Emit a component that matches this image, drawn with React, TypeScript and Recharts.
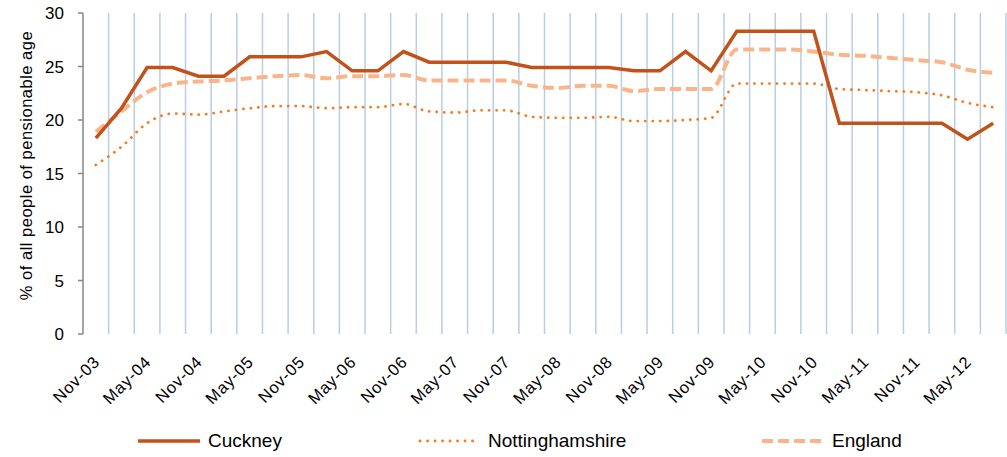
import { LineChart, Line, XAxis, YAxis, CartesianGrid, Legend, Label } from 'recharts';

// ─── Data (quarterly, % of all people of pensionable age) ─────────────────────

const quarters = [
  'Nov-03', 'Feb-04', 'May-04', 'Aug-04', 'Nov-04', 'Feb-05', 'May-05', 'Aug-05',
  'Nov-05', 'Feb-06', 'May-06', 'Aug-06', 'Nov-06', 'Feb-07', 'May-07', 'Aug-07',
  'Nov-07', 'Feb-08', 'May-08', 'Aug-08', 'Nov-08', 'Feb-09', 'May-09', 'Aug-09',
  'Nov-09', 'Feb-10', 'May-10', 'Aug-10', 'Nov-10', 'Feb-11', 'May-11', 'Aug-11',
  'Nov-11', 'Feb-12', 'May-12', 'Aug-12',
];

const cuckney = [
  18.3, 21.1, 24.9, 24.9, 24.1, 24.1, 25.9, 25.9, 25.9, 26.4, 24.6, 24.6,
  26.4, 25.4, 25.4, 25.4, 25.4, 24.9, 24.9, 24.9, 24.9, 24.6, 24.6, 26.4,
  24.6, 28.3, 28.3, 28.3, 28.3, 19.7, 19.7, 19.7, 19.7, 19.7, 18.2, 19.7,
];

const nottinghamshire = [
  15.8, 17.5, 19.7, 20.6, 20.5, 20.8, 21.1, 21.3, 21.3, 21.1, 21.2, 21.2,
  21.5, 20.8, 20.7, 20.9, 20.9, 20.3, 20.2, 20.2, 20.3, 19.9, 19.9, 20.0,
  20.2, 23.4, 23.4, 23.4, 23.4, 22.9, 22.8, 22.7, 22.6, 22.3, 21.6, 21.2,
];

const england = [
  18.9, 20.8, 22.6, 23.4, 23.6, 23.7, 23.9, 24.1, 24.2, 23.9, 24.1, 24.1,
  24.2, 23.7, 23.7, 23.7, 23.7, 23.2, 23.0, 23.2, 23.2, 22.7, 22.9, 22.9,
  22.9, 26.6, 26.6, 26.6, 26.4, 26.1, 26.0, 25.8, 25.6, 25.4, 24.7, 24.4,
];

const yTicks = [0, 5, 10, 15, 20, 25, 30];

// ─── Styles ───────────────────────────────────────────────────────────────────

const FONT = '"Liberation Sans", Arial, sans-serif';
const CUCKNEY = '#C0521A';
const NOTTS = '#F47C20';
const ENGLAND = '#F9B589';
const AXIS = '#868686';
const GRID = '#B9CDE5';

const data = quarters.map((q, i) => ({
  i,
  q,
  cuckney: cuckney[i],
  nottinghamshire: nottinghamshire[i],
  england: england[i],
}));

// tick marks + gridlines sit between categories, labels on every other category
const X_DOMAIN: [number, number] = [-0.5, quarters.length - 0.5];
const boundaries = [-0.5, ...quarters.map((_, i) => i + 0.5)];
const labelTicks = quarters.map((_, i) => i).filter(i => i % 2 === 0);

function QuarterTick(props: any) {
  const { x, y, payload } = props;
  return (
    <text
      x={0}
      y={0}
      transform={`translate(${x + 5},${y + 27}) rotate(-45)`}
      textAnchor="end"
      fontSize={16.5}
      fill="#000"
      fontFamily={FONT}
      letterSpacing={0.8}
    >
      {quarters[payload.value]}
    </text>
  );
}

function YTitle(props: any) {
  const vb = props.viewBox ?? { x: 0, y: 0, height: 0 };
  return (
    <text
      transform={`translate(${vb.x + 26},${vb.y + vb.height / 2 - 8}) rotate(-90)`}
      textAnchor="middle"
      dominantBaseline="central"
      fontSize={16.5}
      fill="#000"
      fontFamily={FONT}
      letterSpacing={0.5}
    >
      % of all people of pensionable age
    </text>
  );
}

const legendItems = [
  { name: 'Cuckney', color: CUCKNEY, width: 3.5, dash: undefined, cap: 'butt', left: 138 },
  { name: 'Nottinghamshire', color: NOTTS, width: 2.8, dash: '0.1 7.4', cap: 'round', left: 418 },
  { name: 'England', color: ENGLAND, width: 4, dash: '11 5', cap: 'butt', left: 762 },
];

function ChartLegend() {
  return (
    <div style={{ position: 'relative', width: 1007, height: 26, fontFamily: FONT }}>
      {legendItems.map(it => (
        <div
          key={it.name}
          style={{ position: 'absolute', left: it.left, top: 0, display: 'flex', alignItems: 'center', height: 26 }}
        >
          <svg width={64} height={26} style={{ display: 'block' }}>
            <line
              x1={it.cap === 'round' ? 2 : 0}
              y1={12}
              x2={62}
              y2={12}
              stroke={it.color}
              strokeWidth={it.width}
              strokeDasharray={it.dash}
              strokeLinecap={it.cap as any}
            />
          </svg>
          <span style={{ marginLeft: 6, fontSize: 19, color: '#000', lineHeight: '26px', position: 'relative', top: -1 }}>
            {it.name}
          </span>
        </div>
      ))}
    </div>
  );
}

// vertical gridlines at the category boundaries (same linear mapping as the x axis)
const gridX = ({ offset }: any) => {
  const [d0, d1] = X_DOMAIN;
  return boundaries.slice(1).map(b => offset.left + ((b - d0) / (d1 - d0)) * offset.width);
};

// ─── Component ────────────────────────────────────────────────────────────────

export default function App() {
  return (
    <div style={{ position: 'absolute', left: 0, top: 0, background: '#fff', fontFamily: FONT }}>
      <LineChart width={1007} height={457} data={data} margin={{ top: 13, right: 1, left: 0, bottom: 33 }}>
        <CartesianGrid
          horizontal={false}
          stroke={GRID}
          strokeWidth={1.5}
          verticalCoordinatesGenerator={gridX}
        />
        <XAxis
          xAxisId={0}
          dataKey="i"
          type="number"
          domain={X_DOMAIN}
          ticks={boundaries}
          allowDataOverflow
          interval={0}
          height={0}
          tick={() => <g />}
          tickSize={5}
          axisLine={{ stroke: AXIS, strokeWidth: 1.5 }}
          tickLine={{ stroke: AXIS, strokeWidth: 1.5 }}
        />
        <XAxis
          xAxisId="lbl"
          dataKey="i"
          type="number"
          domain={X_DOMAIN}
          ticks={labelTicks}
          allowDataOverflow
          height={90}
          axisLine={false}
          tickLine={false}
          tickSize={0}
          interval={0}
          tick={<QuarterTick />}
        />
        <YAxis
          domain={[0, 30]}
          ticks={yTicks}
          width={83}
          tickSize={5}
          tickMargin={14}
          axisLine={{ stroke: AXIS, strokeWidth: 1.5 }}
          tickLine={{ stroke: AXIS, strokeWidth: 1.5 }}
          tick={{ fill: '#000', fontSize: 17, fontFamily: FONT }}
        >
          <Label content={<YTitle />} />
        </YAxis>
        <Legend
          layout="horizontal"
          verticalAlign="middle"
          align="center"
          wrapperStyle={{ top: 429, left: 0, width: 1007 }}
          content={() => <ChartLegend />}
        />
        <Line
          type="monotone"
          dataKey="nottinghamshire"
          stroke={NOTTS}
          strokeWidth={2.8}
          strokeDasharray="0.1 7.4"
          strokeLinecap="round"
          dot={false}
          activeDot={false}
          isAnimationActive={false}
        />
        <Line
          type="monotone"
          dataKey="england"
          stroke={ENGLAND}
          strokeWidth={4}
          strokeDasharray="11 5"
          dot={false}
          activeDot={false}
          isAnimationActive={false}
        />
        <Line
          type="linear"
          dataKey="cuckney"
          stroke={CUCKNEY}
          strokeWidth={3.5}
          dot={false}
          activeDot={false}
          isAnimationActive={false}
        />
      </LineChart>
    </div>
  );
}
